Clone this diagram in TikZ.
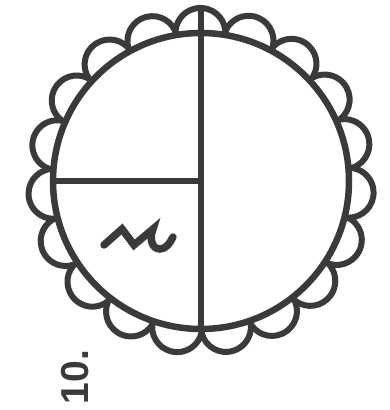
\documentclass[tikz,border=0pt]{standalone}
\usepackage{fontspec}
\newfontfamily\platefont{Liberation Sans}
\definecolor{ink}{HTML}{3A3A3A}

\tikzset{
  rim/.style={draw=ink, line width=6.5pt},
  scallop/.style={draw=ink, line width=6pt},
  bar/.style={draw=ink, line width=6.5pt}
}

\begin{document}
\begin{tikzpicture}[x=1pt,y=1pt]
  \useasboundingbox (0,0) rectangle (390,410);
  \begin{scope}[shift={(201,229)}]
    % named points of the dial
    \coordinate (hub) at (0,0);
    \coordinate (west) at (180:148);
    \coordinate (crown) at (90:170);
    \coordinate (foot) at (270:148);
    \draw[rim] (hub) circle[radius=148pt];
    % scalloped border, 19 lobes, one at the top
    \foreach \k in {0,...,18} {
      \pgfmathsetmacro{\a}{90+\k*360/19}
      \draw[scallop] (\a-180/19:148)
        arc[start angle=\a-90-90/19, end angle=\a+90+90/19, radius=25pt];
    }
    \draw[bar] (crown) -- (foot);
    \draw[bar] (west) -- (hub);
  \end{scope}
  % squiggle in the lower left quarter
  \draw[ink, line width=7.5pt, line join=miter, line cap=round]
    (104,165) -- (122,181) -- (134,165) -- (153,181)
    .. controls (149,171) and (152,161) .. (160,161)
    .. controls (166,161) and (170,167) .. (173,173);
  \node[
    rotate=90,
    text=ink,
    inner sep=0pt
  ] (plate) at (75,33) {\platefont\bfseries\fontsize{39}{39}\selectfont 10.};
\end{tikzpicture}
\end{document}
